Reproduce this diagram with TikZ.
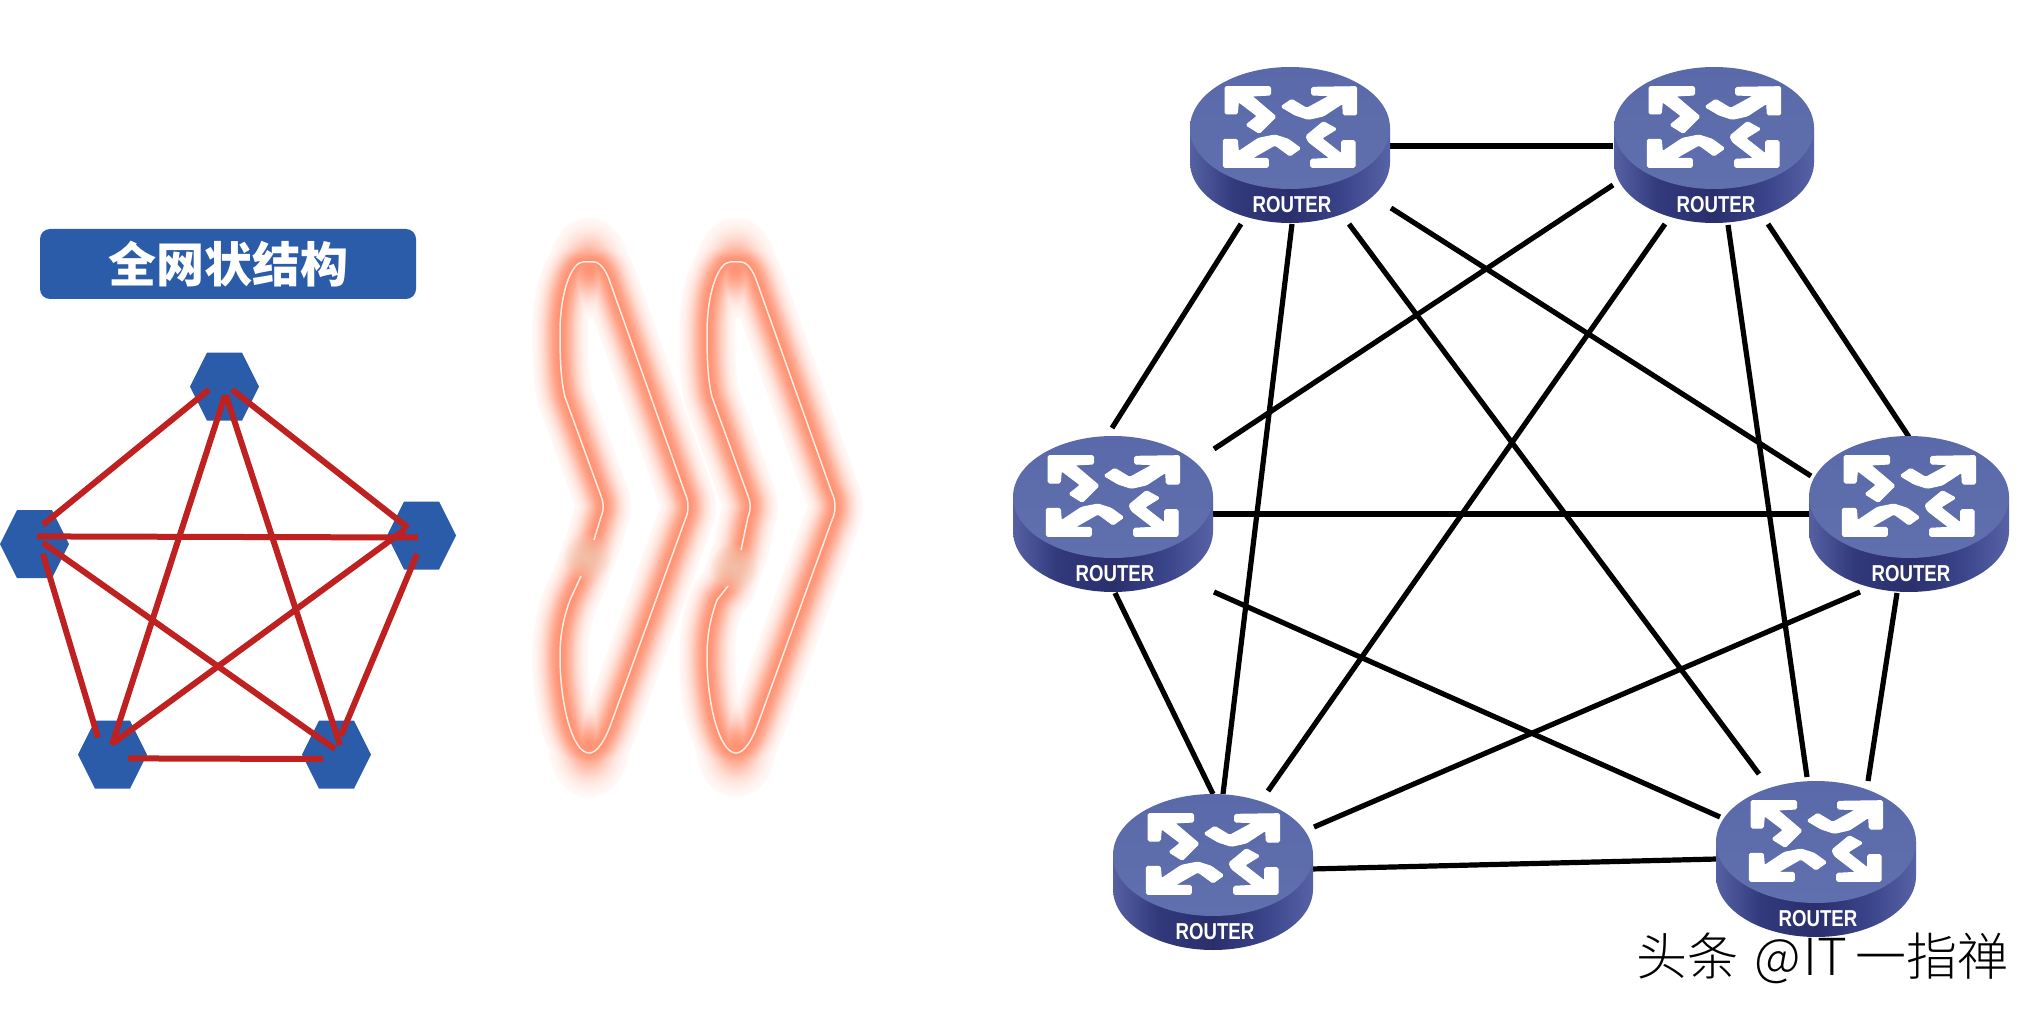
\documentclass[tikz,border=0pt]{standalone}
\usepackage{fontspec}
\usetikzlibrary{calc}
\newfontfamily\cjk{Noto Sans CJK SC}
\newfontfamily\cjklight{Noto Sans CJK SC Light}
\newfontfamily\routerfont[FakeStretch=0.81]{Liberation Sans}
\definecolor{hexblue}{HTML}{2A5CAA}
\definecolor{redln}{HTML}{BF2020}
\definecolor{glowc}{HTML}{FF8A68}
\definecolor{glowtan}{HTML}{F3D3BE}
\definecolor{rtop}{HTML}{5A69A9}
\definecolor{rtopb}{HTML}{6070AE}
\definecolor{sa}{HTML}{5561A3}
\definecolor{sb}{HTML}{323A7C}
\definecolor{sc}{HTML}{2A2F6C}
\definecolor{sd}{HTML}{3C468C}
\definecolor{se}{HTML}{5763A6}
\pgfdeclarehorizontalshading{routerside}{100bp}{color(0bp)=(sa); color(25bp)=(sa); color(36bp)=(sb); color(50bp)=(sc); color(64bp)=(sd); color(75bp)=(se); color(100bp)=(se)}
\pgfdeclareverticalshading{routertop}{100bp}{color(0bp)=(rtopb); color(25bp)=(rtopb); color(75bp)=(rtop); color(100bp)=(rtop)}
\tikzset{
  x=1pt,y=-1pt,
  hexa/.pic={\fill[hexblue] (-34.5,0) -- (-17.5,-34) -- (17.5,-34) -- (34.5,0) -- (17.5,34) -- (-17.5,34) -- cycle;},
  redline/.style={draw=redln,line width=6pt},
  netline/.style={draw=black,line width=5.2pt},
  banner/.style={fill=hexblue,rounded corners=10pt,minimum width=376pt,minimum height=70pt,inner sep=0pt,text=white,font=\cjk\bfseries\fontsize{48}{50}\selectfont},
  routerlabel/.style={text=white,inner sep=0pt,font=\routerfont\bfseries\fontsize{23}{23}\selectfont},
  router/.pic={
    \shade[shading=routerside] (-100,0) -- (-100,34) .. controls (-100,68) and (-55,95) .. (0,95) .. controls (55,95) and (100,68) .. (100,34) -- (100,0) -- cycle;
    \shade[shading=routertop] (0,0) ellipse [x radius=100pt,y radius=61pt];
    \filldraw[white,line width=1pt,rounded corners=1.5pt] \glyph;
    \node[routerlabel] at (2,77) {ROUTER};
  }
}
\def\zp(#1,#2){({#1/3-110},{#2/3-78})}
\def\glyph{
  \zp(135,110) -- \zp(272,110) -- \zp(272,135) -- \zp(215,138) -- \zp(288,200) -- \zp(238,250) -- \zp(198,225) -- \zp(232,198) -- \zp(175,155) -- \zp(172,192) -- \zp(135,192) -- cycle
  \zp(530,110) -- \zp(530,195) -- \zp(490,195) -- \zp(488,160) -- \zp(430,198) -- \zp(385,208) -- \zp(345,195) -- \zp(303,170) -- \zp(335,148) -- \zp(380,175) -- \zp(450,137) -- \zp(395,135) -- \zp(395,112) -- cycle
  \zp(130,268) -- \zp(172,268) -- \zp(175,305) -- \zp(235,265) -- \zp(285,255) -- \zp(325,268) -- \zp(362,295) -- \zp(330,318) -- \zp(285,285) -- \zp(215,325) -- \zp(265,325) -- \zp(265,352) -- \zp(130,352) -- cycle
  \zp(525,272) -- \zp(525,352) -- \zp(392,352) -- \zp(392,328) -- \zp(450,325) -- \zp(385,275) -- \zp(378,258) -- \zp(430,215) -- \zp(470,237) -- \zp(425,265) -- \zp(485,312) -- \zp(485,272) -- cycle
}
\newcommand{\chevmain}[1]{%
  (594,{540+#1}) -- (601,517) .. controls (604,510) and (604,503) .. (601,496)
  -- (565,397) .. controls (561,381) and (560,360) .. (560,333)
  .. controls (560,291) and (572,262) .. (583,262) -- (594,262)
  .. controls (600,262) and (606,270) .. (610,282)
  -- (685,493) .. controls (689,501) and (689,512) .. (685,520)
  -- (612,721) .. controls (605,741) and (597,753) .. (589,753)
  .. controls (573,753) and (560,706) .. (560,656)
  .. controls (560,631) and (565,614) .. (570,600) -- (581,{576+#1})}
\newcommand{\chevron}[2]{%
  \begin{scope}[xshift=#1pt]
    \foreach \w in {56,54,...,2}{
      \pgfmathsetmacro{\p}{94*exp(-(\w/33)*(\w/33))}
      \pgfmathsetmacro{\rx}{0.72*\w}
      \pgfmathsetmacro{\ry}{0.9*\w}
      \fill[fill={glowc!\p!white}] (589,268) ellipse [x radius=\rx pt,y radius=\ry pt];
      \fill[fill={glowc!\p!white}] (589,747) ellipse [x radius=\rx pt,y radius=\ry pt];
      \draw[draw={glowc!\p!white},line width=\w pt,line join=round] \chevmain{#2} -- cycle;
    }
    \foreach \r in {24,22,...,2}{
      \fill[glowtan,opacity=.1] (587.5,{558+#2}) circle [radius=\r pt];
    }
    \draw[draw=white!85!glowc,line width=1.5pt,line join=round] \chevmain{#2};
  \end{scope}}
\begin{document}
\begin{tikzpicture}
\useasboundingbox (0,0) rectangle (2040,1016);
\fill[white] (0,0) rectangle (2040,1016);

% left panel
\node[banner] (title) at (228,264) {全网状结构};
\coordinate (ht) at (224.5,386.6);
\coordinate (hl) at (34.5,544);
\coordinate (hr) at (421.5,535.5);
\coordinate (hbl) at (112.5,754.6);
\coordinate (hbr) at (336.5,754.6);
\foreach \h in {ht,hl,hr,hbl,hbr}{\pic at (\h) {hexa};}
\draw[redline] ([shift={(-15.5,3)}]ht) -- ([shift={(8.5,-19.3)}]hl);
\draw[redline] ([shift={(7.5,3)}]ht) -- ([shift={(-13.5,-7.8)}]hr);
\draw[redline] ([shift={(.5,8.7)}]ht) -- ([shift={(-.5,-9.6)}]hbl);
\draw[redline] ([shift={(1.5,8.7)}]ht) -- ([shift={(3.5,-9.6)}]hbr);
\draw[redline] ([shift={(2.5,-7.6)}]hl) -- ([shift={(-3.5,2)}]hr);
\draw[redline] ([shift={(8.5,-1.2)}]hl) -- ([shift={(-1.5,-5.6)}]hbr);
\draw[redline] ([shift={(8.5,10)}]hl) -- ([shift={(-14.5,-17)}]hbl);
\draw[redline] ([shift={(-16.5,-5.9)}]hr) -- ([shift={(.5,-11.4)}]hbl);
\draw[redline] ([shift={(-4.5,18.5)}]hr) -- ([shift={(4.5,-19)}]hbr);
\draw[redline] ([shift={(15.5,3.8)}]hbl) -- ([shift={(-13.5,4.4)}]hbr);

% chevrons
\chevron{0}{0}
\chevron{147}{10}

% routers
\coordinate (r1) at (1290,128);
\coordinate (r2) at (1714,128);
\coordinate (r3) at (1113,497);
\coordinate (r4) at (1909,497);
\coordinate (r5) at (1213,855);
\coordinate (r6) at (1816,842);
\draw[netline] ([shift={(99,18)}]r1) -- ([shift={(-101,18)}]r2);
\draw[netline] ([shift={(-49,96)}]r1) -- ([shift={(-1,-69)}]r3);
\draw[netline] ([shift={(2,96)}]r1) -- ([shift={(10,-61)}]r5);
\draw[netline] ([shift={(59,96)}]r1) -- ([shift={(-57,-68)}]r6);
\draw[netline] ([shift={(101,80)}]r1) -- ([shift={(-98,-21)}]r4);
\draw[netline] ([shift={(-101,57)}]r2) -- ([shift={(101,-48)}]r3);
\draw[netline] ([shift={(-49,96)}]r2) -- ([shift={(55,-64)}]r5);
\draw[netline] ([shift={(14,97)}]r2) -- ([shift={(-9,-65)}]r6);
\draw[netline] ([shift={(54,96)}]r2) -- ([shift={(0,-60)}]r4);
\draw[netline] ([shift={(100,17)}]r3) -- ([shift={(-99,17)}]r4);
\draw[netline] ([shift={(2,96)}]r3) -- ([shift={(0,-61)}]r5);
\draw[netline] ([shift={(101,95)}]r3) -- ([shift={(-96,-25)}]r6);
\draw[netline] ([shift={(-49,95)}]r4) -- ([shift={(101,-28)}]r5);
\draw[netline] ([shift={(-12,96)}]r4) -- ([shift={(52,-61)}]r6);
\draw[netline] ([shift={(98,14)}]r5) -- ([shift={(-99,17)}]r6);
\pic at (r1) {router};
\pic at (r2) {router};
\pic at (r3) {router};
\pic at (r4) {router};
\pic at (r5) {router};
\pic at (r6) {router};

% watermark
\node[anchor=west,inner sep=0pt,text=black,font=\cjklight\fontsize{51}{53}\selectfont] (wm) at (1636,958) {头条\hspace{5pt} @\hspace{3pt}IT\hspace{8pt}一指禅};
\end{tikzpicture}
\end{document}
